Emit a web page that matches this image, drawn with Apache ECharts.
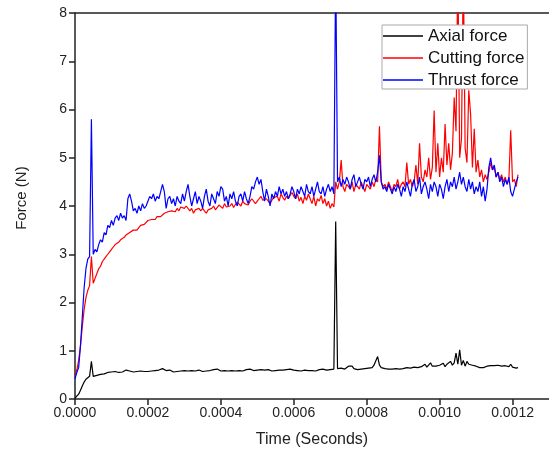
<!DOCTYPE html>
<html><head><meta charset="utf-8">
<script src="https://cdn.jsdelivr.net/npm/echarts@6/dist/echarts.min.js"></script>
<style>html,body{margin:0;padding:0;background:#fff}#c{width:549px;height:459px}</style>
</head><body><div id="c"></div>
<script>
const timeStep = 0.000005; // sampling interval of the recorded signals (s)
const xTicks = ['0.0000','0.0002','0.0004','0.0006','0.0008','0.0010','0.0012'];
const yTicks = [0,1,2,3,4,5,6,7,8];
const seriesNames = ['Axial force','Cutting force','Thrust force'];

const thrust = [
0.42,0.55,0.65,1.1,1.7,2.3,2.7,2.9,2.95,5.8,
3.0,3.1,3.05,3.2,3.3,3.25,3.45,3.4,3.6,3.55,
3.7,3.6,3.75,3.8,3.7,3.85,3.75,3.8,3.7,4.15,
4.25,4.1,3.9,3.95,3.85,4.0,3.9,4.05,3.95,4.0,
4.1,4.2,4.15,4.25,4.1,4.2,4.15,4.3,4.45,4.3,
3.95,4.15,4.2,4.05,4.15,4.0,4.2,4.1,4.05,4.25,
4.1,4.3,4.45,4.2,4.0,4.15,4.3,4.05,4.2,4.1,
3.95,4.2,4.35,4.1,4.0,4.25,4.15,4.05,4.3,4.2,
4.4,4.35,4.1,4.2,4.0,4.25,4.15,4.3,4.1,4.0,
4.2,4.25,4.1,4.3,4.15,4.05,4.2,4.4,4.35,4.5,
4.6,4.45,4.55,4.3,4.1,4.35,4.2,4.0,4.25,4.15,
4.3,4.2,4.4,4.25,4.35,4.2,4.3,4.15,4.25,4.4,
4.3,4.15,4.35,4.25,4.4,4.3,4.2,4.45,4.3,4.25,
4.4,4.2,4.35,4.5,4.3,4.25,4.4,4.2,4.35,4.45,
4.3,4.4,4.25,9.0,4.5,4.6,4.4,4.55,4.45,4.6,
4.5,4.35,4.55,4.65,4.4,4.5,4.6,4.45,4.35,4.55,
4.5,4.6,4.4,4.55,4.65,4.5,4.7,5.05,4.5,4.35,
4.4,4.3,4.45,4.35,4.25,4.4,4.3,4.45,4.35,4.2,
4.4,4.3,4.5,4.35,4.2,4.45,4.55,4.3,4.4,4.6,
4.25,4.4,4.5,4.35,4.15,4.45,4.3,4.5,4.4,4.2,
4.45,4.35,4.15,4.4,4.55,4.3,4.5,4.4,4.6,4.35,
4.5,4.7,4.45,4.6,4.4,4.3,4.55,4.35,4.5,4.25,
4.4,4.3,4.5,4.2,4.4,4.1,4.35,4.8,5.0,4.75,
4.85,4.6,4.7,4.5,4.6,4.4,4.55,4.45,4.6,4.3,
4.2,4.35,4.5,4.6];

const cutting = [
0.5,0.6,0.8,1.1,1.5,1.85,2.1,2.25,2.35,2.95,
2.4,2.5,2.6,2.7,2.75,2.85,2.9,2.95,3.0,3.05,
3.1,3.15,3.2,3.2,3.25,3.3,3.3,3.35,3.4,3.42,
3.45,3.45,3.5,3.52,3.5,3.55,3.6,3.58,3.62,3.65,
3.7,3.68,3.72,3.75,3.72,3.78,3.8,3.78,3.82,3.85,
3.82,3.88,3.85,3.9,3.92,3.88,3.95,3.9,3.98,4.0,
3.95,4.0,3.98,3.9,3.95,3.85,3.92,3.88,3.95,3.9,
3.95,3.9,3.85,3.92,3.88,3.95,4.0,3.92,3.96,4.02,
4.0,3.95,4.05,3.98,4.02,4.0,4.05,3.97,4.03,4.08,
4.05,4.0,4.1,4.05,4.08,4.02,4.1,4.15,4.12,4.05,
4.1,4.15,4.2,4.12,4.08,4.15,4.1,4.05,4.12,4.18,
4.15,4.2,4.1,4.25,4.18,4.12,4.2,4.15,4.22,4.28,
4.2,4.15,4.25,4.1,4.18,4.05,4.2,4.12,4.25,4.15,
4.05,4.2,4.0,4.15,4.1,4.22,4.05,4.15,4.0,4.1,
3.95,4.05,3.98,4.5,4.35,4.5,4.95,4.4,4.3,4.45,
4.4,4.35,4.5,4.3,4.45,4.4,4.35,4.5,4.4,4.3,
4.45,4.4,4.35,4.5,4.4,4.55,4.5,5.65,4.5,4.4,
4.45,4.35,4.5,4.4,4.3,4.45,4.4,4.55,4.35,4.45,
4.5,4.4,4.9,4.45,4.55,4.4,4.5,4.85,4.45,5.3,
4.6,4.5,4.75,4.6,5.0,4.55,4.8,5.98,4.7,5.3,
4.6,5.0,4.7,5.7,4.85,5.3,4.75,5.1,6.25,5.55,
9.0,5.0,5.4,9.0,5.2,4.9,6.4,5.9,4.8,5.6,
4.7,4.95,4.6,4.75,4.5,4.65,4.55,4.7,4.9,4.75,
4.8,4.6,4.7,4.55,4.65,4.5,4.6,4.45,4.55,5.57,
4.5,4.55,4.4,4.65];

const axial = [
0.02,0.05,0.1,0.18,0.27,0.35,0.41,0.45,0.47,0.78,
0.47,0.5,0.49,0.52,0.51,0.53,0.52,0.54,0.55,0.54,
0.56,0.55,0.57,0.56,0.55,0.57,0.56,0.58,0.6,0.57,
0.58,0.57,0.56,0.58,0.57,0.59,0.58,0.56,0.57,0.58,
0.57,0.59,0.58,0.6,0.59,0.58,0.6,0.61,0.63,0.6,
0.59,0.58,0.6,0.57,0.56,0.58,0.57,0.59,0.58,0.6,
0.59,0.61,0.58,0.57,0.59,0.6,0.58,0.62,0.6,0.58,
0.57,0.59,0.58,0.6,0.59,0.58,0.61,0.6,0.62,0.59,
0.58,0.6,0.59,0.57,0.58,0.6,0.59,0.61,0.58,0.6,
0.59,0.6,0.58,0.59,0.61,0.6,0.62,0.6,0.59,0.61,
0.6,0.62,0.61,0.59,0.6,0.62,0.61,0.6,0.58,0.6,
0.59,0.61,0.6,0.62,0.6,0.59,0.61,0.6,0.62,0.61,
0.6,0.58,0.59,0.6,0.58,0.59,0.6,0.61,0.59,0.6,
0.59,0.6,0.58,0.6,0.61,0.6,0.62,0.61,0.6,0.62,
0.61,0.6,0.62,3.68,0.63,0.62,0.64,0.63,0.62,0.64,
0.68,0.67,0.68,0.63,0.62,0.61,0.63,0.62,0.64,0.63,
0.65,0.64,0.66,0.65,0.7,0.74,0.88,0.7,0.65,0.62,
0.63,0.61,0.62,0.6,0.62,0.61,0.63,0.6,0.62,0.61,
0.63,0.62,0.65,0.61,0.64,0.62,0.66,0.63,0.65,0.64,
0.67,0.65,0.72,0.66,0.7,0.75,0.68,0.64,0.68,0.66,
0.7,0.68,0.74,0.67,0.72,0.69,0.78,0.7,0.75,0.95,
0.72,1.02,0.7,0.8,0.68,0.78,0.72,0.69,0.7,0.67,
0.68,0.66,0.65,0.67,0.65,0.66,0.68,0.7,0.69,0.67,
0.69,0.68,0.7,0.67,0.68,0.66,0.69,0.65,0.67,0.72,
0.66,0.65,0.64,0.65];

function pairs(arr){ return arr.map((v,i)=>[i*timeStep, v]); }

const FONT = '"Liberation Sans", Arial, sans-serif';
const chart = echarts.init(document.getElementById('c'), null, {renderer:'canvas'});
const axisLine = {show:true, lineStyle:{color:'#222', width:1.5}};
chart.setOption({
  animation:false,
  backgroundColor:'#fff',
  grid:{left:75, top:13, right:-2, bottom:60, containLabel:false},
  xAxis:[{
    type:'value', min:0, max:0.0013, interval:0.0002,
    axisLine:axisLine, splitLine:{show:false},
    axisTick:{show:true, length:6, inside:false, lineStyle:{color:'#222', width:1.5}},
    axisLabel:{fontFamily:FONT, fontSize:14, color:'#222', margin:7, showMaxLabel:false,
      formatter:(v)=>{ const s=v.toFixed(4); return xTicks.indexOf(s)>=0 ? s : ''; }}
  },{
    type:'value', position:'top', min:0, max:0.0013,
    axisLine:axisLine, axisTick:{show:false}, axisLabel:{show:false}, splitLine:{show:false}
  }],
  yAxis:{
    type:'value', min:0, max:8, interval:1,
    axisLine:axisLine, splitLine:{show:false},
    axisTick:{show:true, length:6, lineStyle:{color:'#222', width:1.5}},
    axisLabel:{fontFamily:FONT, fontSize:14, color:'#222', margin:8,
      formatter:(v)=> yTicks.indexOf(v)>=0 ? String(v) : ''}
  },
  legend:{
    orient:'vertical', left:382, top:25,
    data:seriesNames, icon:'rect',
    backgroundColor:'#fff', borderColor:'#aaa', borderWidth:1,
    padding:[2,3,0,1], itemGap:4, itemWidth:40, itemHeight:1.6,
    textStyle:{fontFamily:FONT, fontSize:17, color:'#111', lineHeight:18},
    selectedMode:false
  },
  graphic:[
    {type:'text', x:312, y:440, style:{text:'Time (Seconds)', font:'16px '+FONT, fill:'#222', textAlign:'center', textVerticalAlign:'middle'}},
    {type:'text', x:22, y:198, rotation:Math.PI/2, style:{text:'Force (N)', font:'15px '+FONT, fill:'#222', textAlign:'center', textVerticalAlign:'middle'}}
  ],
  series:[
    {name:seriesNames[0], type:'line', data:pairs(axial), symbol:'none', lineStyle:{color:'#000', width:1.2}, itemStyle:{color:'#000'}},
    {name:seriesNames[1], type:'line', data:pairs(cutting), symbol:'none', lineStyle:{color:'#f00', width:1.2}, itemStyle:{color:'#f00'}},
    {name:seriesNames[2], type:'line', data:pairs(thrust), symbol:'none', lineStyle:{color:'#00f', width:1.2}, itemStyle:{color:'#00f'}}
  ]
});
</script></body></html>
